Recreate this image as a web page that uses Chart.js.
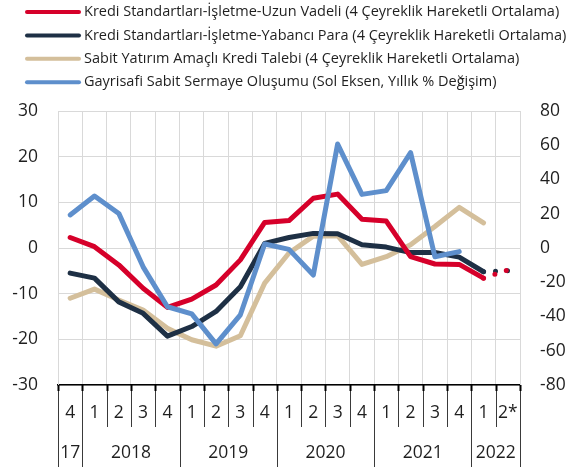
<!DOCTYPE html>
<html><head><meta charset="utf-8">
<script src="https://cdn.jsdelivr.net/npm/chart.js@4/dist/chart.umd.min.js"></script>
<style>html,body{margin:0;padding:0;background:#fff}#wrap{width:581px;height:468px;position:relative}</style>
</head><body><div id="wrap"><canvas id="c"></canvas></div>
<script>
const quarterLabels = ['4','1','2','3','4','1','2','3','4','1','2','3','4','1','2','3','4','1','2*'];
const yearLabels = ['17','2018','2019','2020','2021','2022'];
const yearSpans = [1,4,4,4,4,2];
const seriesNames = [
  'Kredi Standartları-İşletme-Uzun Vadeli (4 Çeyreklik Hareketli Ortalama)',
  'Kredi Standartları-İşletme-Yabancı Para (4 Çeyreklik Hareketli Ortalama)',
  'Sabit Yatırım Amaçlı Kredi Talebi (4 Çeyreklik Hareketli Ortalama)',
  'Gayrisafi Sabit Sermaye Oluşumu (Sol Eksen, Yıllık % Değişim)'
];
const uzunVadeli = [2.3, 0.3, -3.7, -8.8, -13.0, -11.2, -8.1, -2.6, 5.6, 6.0, 10.9, 11.8, 6.3, 5.9, -1.9, -3.5, -3.6, -6.6, -4.8];
const yabanciPara = [-5.5, -6.6, -11.8, -14.3, -19.3, -17.2, -13.9, -8.5, 1.0, 2.3, 3.2, 3.1, 0.7, 0.2, -1.0, -1.0, -2.0, -5.2, -5.0];
const krediTalebi = [-11.0, -9.0, -11.4, -13.6, -17.6, -20.1, -21.5, -19.2, -7.7, -1.1, 2.6, 2.7, -3.6, -1.9, 0.7, 4.7, 8.9, 5.5, null];
const gsso = [19.3, 30.4, 20.2, -11.0, -34.3, -38.5, -56.0, -39.0, 2.3, -0.8, -15.8, 60.7, 31.3, 33.5, 55.7, -5.1, -2.1, null, null];
const leftTicks = [-30, 30, 10];
const rightTicks = [-80, 80, 20];

const FONT = '"Open Sans", sans-serif';
const TXT = '#1f1f1f';
const colors = ['#d6002a', '#1e3045', '#d4bf9b', '#5e8fcc'];

const dotted = ctx => (ctx.p1DataIndex === quarterLabels.length - 1 ? [0, 12] : undefined);

const legendPlugin = {
  id: 'customLegend',
  afterDraw(chart) {
    const ctx = chart.ctx;
    ctx.save();
    chart.data.datasets.forEach((ds, i) => {
      const y = 12 + i * 23.4;
      ctx.strokeStyle = ds.borderColor; ctx.lineWidth = 4; ctx.lineCap = 'round';
      ctx.beginPath(); ctx.moveTo(27, y); ctx.lineTo(79, y); ctx.stroke();
      ctx.fillStyle = TXT; ctx.font = '14.5px ' + FONT; ctx.textBaseline = 'middle'; ctx.textAlign = 'left';
      ctx.fillText(ds.label, 84, y);
    });
    ctx.restore();
  }
};

const xAxisPlugin = {
  id: 'xSep',
  afterDraw(chart) {
    const xs = chart.scales.x, ca = chart.chartArea, ctx = chart.ctx;
    const n = quarterLabels.length;
    const step = xs.getPixelForValue(1) - xs.getPixelForValue(0);
    const edge = i => xs.getPixelForValue(i) - step / 2;
    ctx.save();
    ctx.strokeStyle = '#3a3a3a'; ctx.lineWidth = 1;
    for (let i = 0; i <= n; i++) {
      const x = Math.round(edge(i)) + 0.5;
      ctx.beginPath(); ctx.moveTo(x, ca.bottom); ctx.lineTo(x, 427); ctx.stroke();
    }
    let s = 0;
    const bounds = [0];
    yearSpans.forEach(sp => { s += sp; bounds.push(s); });
    bounds.forEach(b => {
      const x = Math.round(edge(b)) + 0.5;
      ctx.beginPath(); ctx.moveTo(x, ca.bottom); ctx.lineTo(x, 467); ctx.stroke();
    });
    ctx.strokeStyle = '#000'; ctx.lineWidth = 2;
    for (let i = 0; i <= n; i++) {
      const x = Math.round(edge(i)) + 0.5;
      ctx.beginPath(); ctx.moveTo(x, ca.bottom); ctx.lineTo(x, ca.bottom + 6); ctx.stroke();
    }
    ctx.fillStyle = TXT; ctx.font = '17.5px ' + FONT; ctx.textAlign = 'center'; ctx.textBaseline = 'middle';
    yearLabels.forEach((lab, k) => {
      const cx = (edge(bounds[k]) + edge(bounds[k + 1])) / 2;
      ctx.fillText(lab, cx, 453);
    });
    ctx.restore();
  }
};

new Chart(document.getElementById('c'), {
  type: 'line',
  data: {
    labels: quarterLabels,
    datasets: [
      { label: seriesNames[0], data: uzunVadeli, yAxisID: 'y', borderColor: colors[0], order: 1 },
      { label: seriesNames[1], data: yabanciPara, yAxisID: 'y', borderColor: colors[1], order: 2 },
      { label: seriesNames[2], data: krediTalebi, yAxisID: 'y', borderColor: colors[2], order: 3 },
      { label: seriesNames[3], data: gsso, yAxisID: 'y1', borderColor: colors[3], order: 0 }
    ].map(d => Object.assign(d, {
      borderWidth: 5, pointRadius: 0, tension: 0, fill: false, spanGaps: false,
      borderCapStyle: 'round', borderJoinStyle: 'round', segment: { borderDash: dotted }
    }))
  },
  options: {
    responsive: true, maintainAspectRatio: false, animation: false,
    layout: { padding: { top: 111, left: 0, right: 0, bottom: 0 } },
    plugins: { legend: { display: false }, tooltip: { enabled: false } },
    scales: {
      x: {
        offset: true,
        grid: { offset: true, color: '#d9d9d9', lineWidth: 1, drawTicks: false },
        border: { color: '#000', width: 1.5 },
        ticks: { font: { family: FONT, size: 17.5 }, color: TXT, padding: 18, maxRotation: 0, autoSkip: false },
        afterFit: s => { s.height = 83; }
      },
      y: {
        position: 'left', min: leftTicks[0], max: leftTicks[1],
        ticks: { stepSize: leftTicks[2], font: { family: FONT, size: 17.5 }, color: TXT, padding: 20 },
        grid: { color: '#d9d9d9', lineWidth: 1, drawTicks: false },
        border: { color: '#d9d9d9' },
        afterFit: s => { s.width = 58; }
      },
      y1: {
        position: 'right', min: rightTicks[0], max: rightTicks[1],
        ticks: { stepSize: rightTicks[2], font: { family: FONT, size: 17.5 }, color: TXT, padding: 20 },
        grid: { drawOnChartArea: false, drawTicks: false },
        border: { color: '#d9d9d9' },
        afterFit: s => { s.width = 61; }
      }
    }
  },
  plugins: [legendPlugin, xAxisPlugin]
});
</script></body></html>
